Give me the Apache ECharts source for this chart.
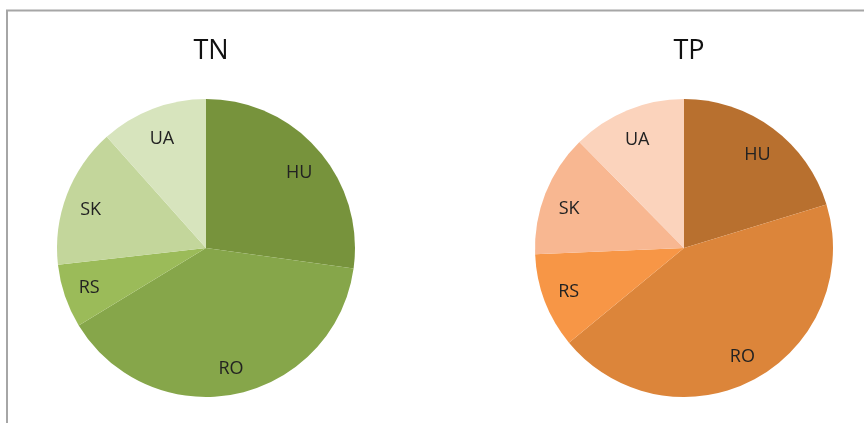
<!DOCTYPE html>
<html><head><meta charset="utf-8">
<script src="https://cdn.jsdelivr.net/npm/echarts@6/dist/echarts.min.js"></script>
<style>html,body{margin:0;padding:0;background:#fff}#c{width:864px;height:423px}</style>
</head><body><div id="c"></div>
<script>
const categories = ['HU', 'RO', 'RS', 'SK', 'UA'];
const tnValues = [27.2, 39.1, 6.9, 15.2, 11.6];
const tpValues = [20.3, 43.8, 10.3, 13.3, 12.4];
const tnColors = ['#77933c', '#86a64a', '#9bbb59', '#c3d69b', '#d7e4bd'];
const tpColors = ['#b8702f', '#dc853a', '#f79646', '#f8b791', '#fbd3bc'];
const titles = ['TN', 'TP'];

const chart = echarts.init(document.getElementById('c'));
const font = 'Open Sans, Noto Sans, sans-serif';
function mk(vals, cols) { return categories.map((n, i) => ({ name: n, value: vals[i], itemStyle: { color: cols[i] } })); }
function pieBase(center, vals, cols) {
  return {
    type: 'pie', center: center, radius: [0, 149], startAngle: 90, clockwise: true,
    data: mk(vals, cols), label: { show: false }, labelLine: { show: false },
    itemStyle: { borderWidth: 0 }, emphasis: { disabled: true }, silent: true, animation: false
  };
}
function pieLabels(center, vals) {
  return {
    type: 'pie', center: center, radius: [92, 149], startAngle: 90, clockwise: true,
    data: categories.map((n, i) => ({ name: n, value: vals[i], itemStyle: { color: 'rgba(0,0,0,0)' } })),
    label: { show: true, position: 'inside', formatter: '{b}', color: '#222', fontSize: 18, fontFamily: font },
    labelLayout: function (p) {
      const cy = p.labelRect.y + p.labelRect.height / 2;
      return cy < center[1] ? { dy: 6 } : {};
    },
    labelLine: { show: false }, emphasis: { disabled: true }, silent: true, animation: false, z: 3
  };
}
chart.setOption({
  animation: false,
  graphic: [
    { type: 'polyline', shape: { points: [[7, 423], [7, 10.5], [864, 10.5]] }, style: { stroke: '#a6a6a6', lineWidth: 2, fill: null } }
  ],
  title: [
    { text: titles[0], left: 206, top: 33, textAlign: 'center', textStyle: { fontSize: 27, fontWeight: 'normal', color: '#111', fontFamily: font } },
    { text: titles[1], left: 684, top: 33, textAlign: 'center', textStyle: { fontSize: 27, fontWeight: 'normal', color: '#111', fontFamily: font } }
  ],
  series: [
    pieBase([206, 248], tnValues, tnColors),
    pieLabels([206, 248], tnValues),
    pieBase([684, 248], tpValues, tpColors),
    pieLabels([684, 248], tpValues)
  ]
});
</script></body></html>
